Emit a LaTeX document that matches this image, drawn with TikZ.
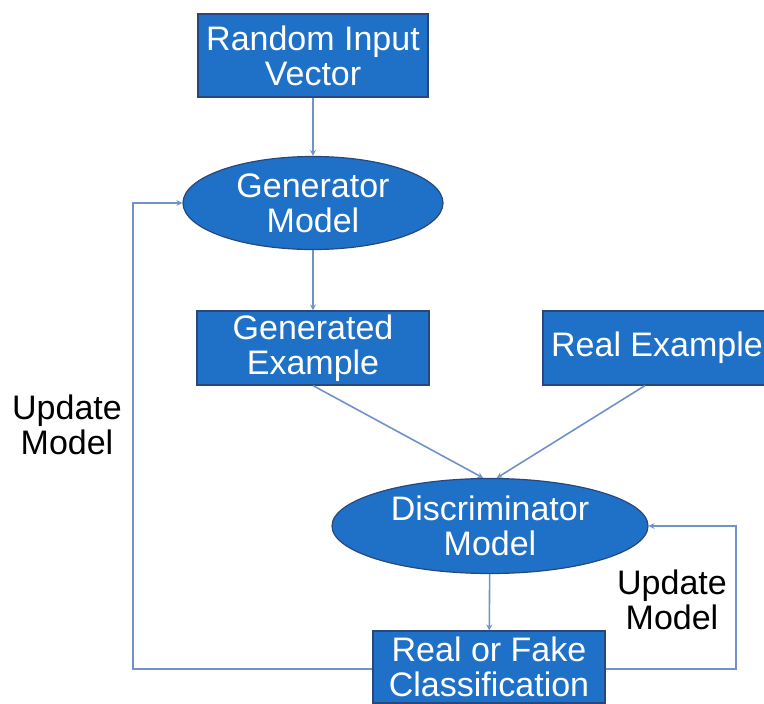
\documentclass[tikz,border=0pt]{standalone}
\usepackage{fontspec}
\setmainfont{Liberation Sans}
\usetikzlibrary{shapes.geometric}
\definecolor{boxblue}{RGB}{31,112,199}
\definecolor{boxedge}{RGB}{40,72,125}
\definecolor{linkblue}{RGB}{112,146,200}

\begin{document}
\begin{tikzpicture}[x=1pt,y=-1pt]
\tikzset{boite/.style={draw=boxedge, fill=boxblue, text=white, line width=1.2pt, align=center, inner sep=0pt, font=\fontsize{34}{35}\selectfont},
ovale/.style={boite, ellipse},
etiquette/.style={align=center, inner sep=0pt, font=\fontsize{34}{35}\selectfont},
lien/.style={draw=linkblue, line width=1.6pt, ->, >=stealth}}
\useasboundingbox (0,0) rectangle (764,704);
\clip (0,0) rectangle (764,704);
\node[boite, minimum width=230pt, minimum height=83pt] (riv) at (313,55.5) {Random Input\\Vector};
\node[ovale, minimum width=260pt, minimum height=93pt] (gen) at (313,203) {Generator\\Model};
\node[boite, minimum width=232pt, minimum height=74pt] (genex) at (313,348) {Generated\\Example};
\node[boite, minimum width=228pt, minimum height=74pt] (realex) at (657,348) {Real Example};
\node[ovale, minimum width=316pt, minimum height=95pt] (disc) at (490,526) {Discriminator\\Model};
\node[boite, minimum width=232pt, minimum height=72pt] (rof) at (489,667) {Real or Fake\\Classification};
\node[etiquette] (majG) at (67,425) {Update\\Model};
\node[etiquette] (majD) at (672,600) {Update\\Model};
\coordinate (coinG) at (133,669);
\coordinate (coinD) at (736,669);
\draw[lien] (riv) -- (gen);
\draw[lien] (gen) -- (genex);
\draw[lien] (genex.south) -- (disc.98);
\draw[lien] ([xshift=-12pt]realex.south) -- (disc.82);
\draw[lien] (disc) -- (rof);
\draw[lien] (rof.west |- coinG) -- (coinG) |- (gen.west);
\draw[lien] (rof.east |- coinD) -- (coinD) |- (disc.east);
\end{tikzpicture}
\end{document}
